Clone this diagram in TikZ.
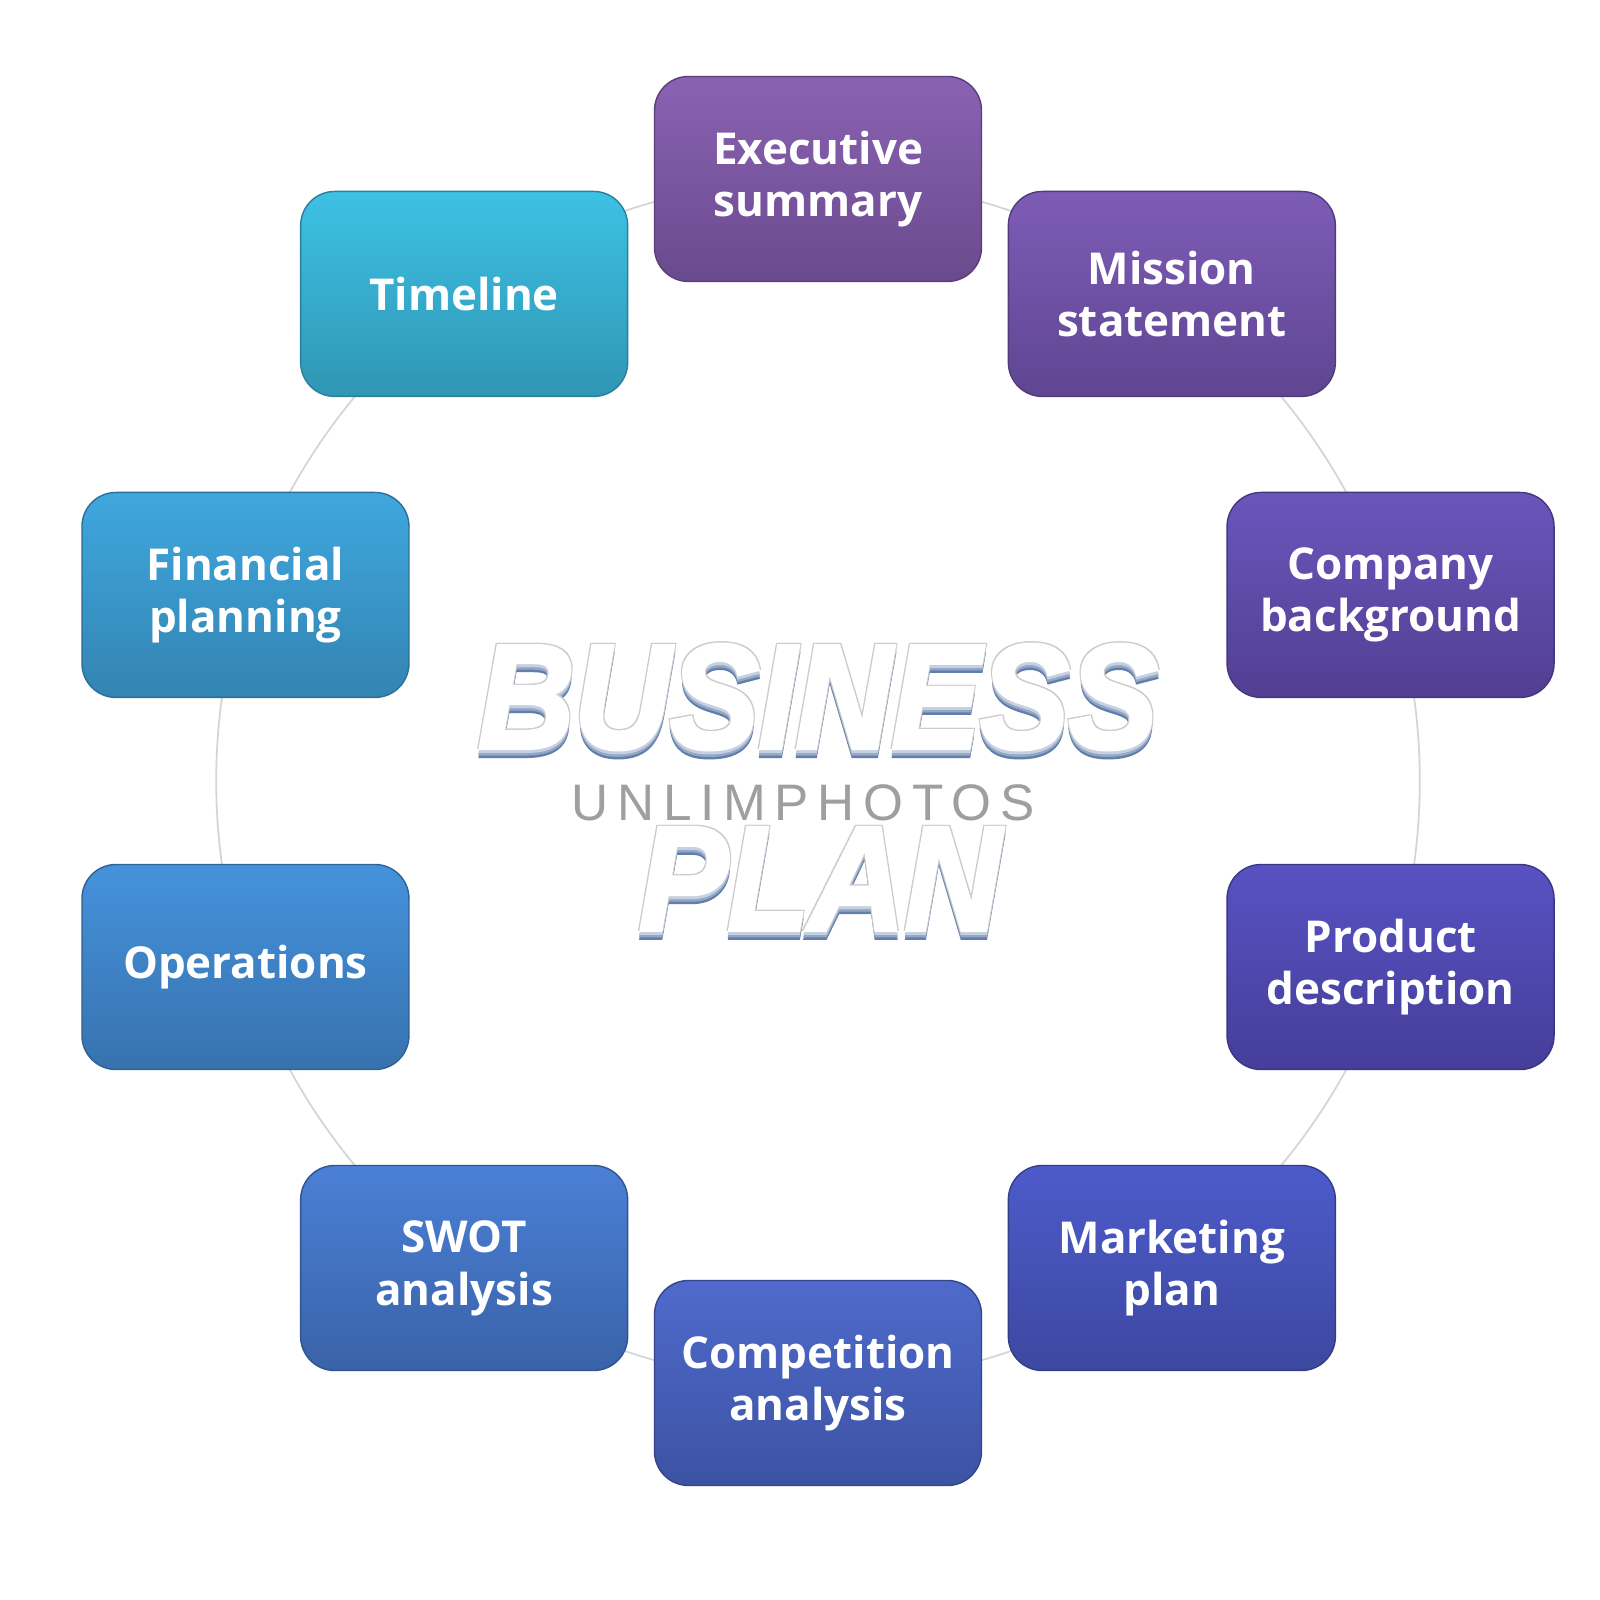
\documentclass[tikz,border=0pt]{standalone}
\usepackage{fontspec}
\setmainfont{Open Sans}
\newfontfamily\titlefont[FakeBold=3]{Liberation Sans Bold Italic}
\newfontfamily\markfont[LetterSpace=17]{Liberation Sans}
\usepackage{xcolor}
\definecolor{execTop}{HTML}{8A62B2}
\definecolor{execBot}{HTML}{6A4A8E}
\definecolor{missTop}{HTML}{7D5CB6}
\definecolor{missBot}{HTML}{5F4592}
\definecolor{compTop}{HTML}{6A56BC}
\definecolor{compBot}{HTML}{523F92}
\definecolor{prodTop}{HTML}{5852C2}
\definecolor{prodBot}{HTML}{453E9A}
\definecolor{markTop}{HTML}{4D5BCA}
\definecolor{markBot}{HTML}{3D48A0}
\definecolor{rivalTop}{HTML}{4F6ACC}
\definecolor{rivalBot}{HTML}{3C52A2}
\definecolor{swotTop}{HTML}{4A80D6}
\definecolor{swotBot}{HTML}{3A62A8}
\definecolor{opsTop}{HTML}{4592DC}
\definecolor{opsBot}{HTML}{3772AE}
\definecolor{finTop}{HTML}{3FA7DE}
\definecolor{finBot}{HTML}{3384B2}
\definecolor{timeTop}{HTML}{3DC1E4}
\definecolor{timeBot}{HTML}{3096B4}
\definecolor{titleShade}{HTML}{5A78A8}
\definecolor{ringgray}{HTML}{D2D6DA}
\usepackage{tikz}
\usetikzlibrary{
  positioning,
  calc,
  backgrounds
}

\begin{document}
\begin{tikzpicture}[
  box/.style 2 args={rectangle, rounded corners=0.34cm,
    minimum width=3.27cm, minimum height=2.05cm,
    top color=#1, bottom color=#2, draw=#2!85!black, line width=0.4pt,
    text=white, align=center, inner sep=2pt,
    font=\fontsize{12.5}{15}\selectfont\bfseries},
  ring/.style={ringgray, line width=0.5pt, bend left=18, looseness=0.87},
  headline/.style={font=\titlefont\fontsize{42}{42}\selectfont,
    xscale=0.9, transform shape, inner sep=0pt}
]
\useasboundingbox (0,0) rectangle (16,16);

% Ring geometry
\def\R{6.02}     % ring radius
\coordinate (c) at (8.18,8.19);

% Topic boxes, clockwise from the top
\node[box={execTop}{execBot}]   (exec)    at ($(c)+(90:\R)$)   {Executive\\summary};
\node[box={missTop}{missBot}]   (mission) at ($(c)+(54:\R)$)   {Mission\\statement};
\node[box={compTop}{compBot}]   (company) at ($(c)+(18:\R)$)   {Company\\background};
\node[box={prodTop}{prodBot}]   (product) at ($(c)+(-18:\R)$)  {Product\\description};
\node[box={markTop}{markBot}]   (market)  at ($(c)+(-54:\R)$)  {Marketing\\plan};
\node[box={rivalTop}{rivalBot}] (rivals)  at ($(c)+(-90:\R)$)  {Competition\\analysis};
\node[box={swotTop}{swotBot}]   (swot)    at ($(c)+(-126:\R)$) {SWOT\\analysis};
\node[box={opsTop}{opsBot}]     (ops)     at ($(c)+(-162:\R)$) {Operations};
\node[box={finTop}{finBot}]     (finance) at ($(c)+(162:\R)$)  {Financial\\planning};
\node[box={timeTop}{timeBot}]   (timeline) at ($(c)+(126:\R)$) {Timeline};

% Ring arcs between neighbours, behind the boxes
\begin{scope}[on background layer]
\fill[white] (0,0) rectangle (16,16);
\draw[ring] (exec.center)     to (mission.center);
\draw[ring] (mission.center)  to (company.center);
\draw[ring] (company.center)  to (product.center);
\draw[ring] (product.center)  to (market.center);
\draw[ring] (market.center)   to (rivals.center);
\draw[ring] (rivals.center)   to (swot.center);
\draw[ring] (swot.center)     to (ops.center);
\draw[ring] (ops.center)      to (finance.center);
\draw[ring] (finance.center)  to (timeline.center);
\draw[ring] (timeline.center) to (exec.center);
\end{scope}

% Centre title: shaded underside, thin grey rim, then white face
\foreach \d/\m in {0/95, 0.025/65, 0.05/35} {
  \node[headline, text=titleShade!\m!white] at (8.18,8.95+\d) {BUSINESS};
  \node[headline, text=titleShade!\m!white] at (8.20,7.13+\d) {PLAN};
}
\foreach \dx/\dy in {-0.012/0.012, 0.012/0.012} {
  \node[headline, text=gray!40] at (8.18+\dx,9.03+\dy) {BUSINESS};
  \node[headline, text=gray!40] at (8.20+\dx,7.21+\dy) {PLAN};
}
\node[headline, text=white] (title) at (8.18,9.03) {BUSINESS};
\node[headline, text=white] (plan) at (8.20,7.21) {PLAN};

% Watermark
\node[font=\markfont\fontsize{14.6}{14.6}\selectfont, text=gray!75, inner sep=0pt]
  (mark) at (8.03,7.97) {UNLIMPHOTOS};

\end{tikzpicture}
\end{document}
